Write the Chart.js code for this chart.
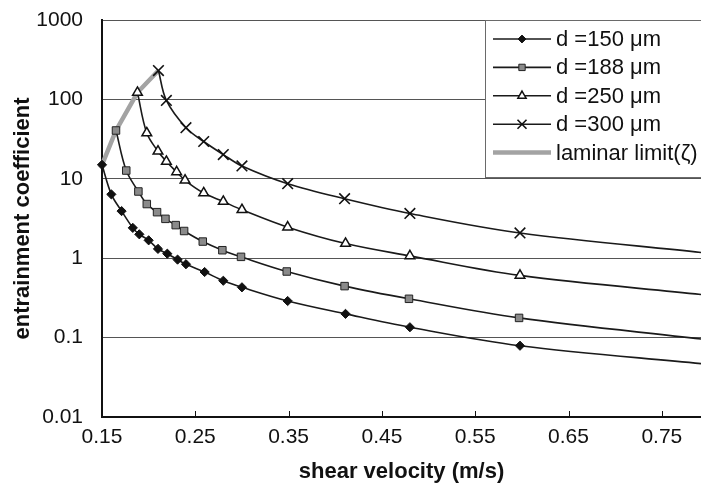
<!DOCTYPE html>
<html>
<head>
<meta charset="utf-8">
<script src="https://cdn.jsdelivr.net/npm/chart.js@4/dist/chart.umd.min.js"></script>
<style>
  html, body { margin: 0; padding: 0; background: #fff; }
  #wrap { width: 701px; height: 487px; position: relative; }
</style>
</head>
<body>
<div id="wrap"><canvas id="c"></canvas></div>
<script>
// Entrainment coefficient vs. shear velocity, one series per grain diameter
const velocity150 = [0.150, 0.160, 0.171, 0.183, 0.190, 0.200, 0.210, 0.220, 0.231, 0.240, 0.260, 0.280, 0.300, 0.349, 0.411, 0.480, 0.598, 0.792];
const coef150     = [15.0, 6.37, 3.92, 2.41, 2.00, 1.68, 1.31, 1.14, 0.96, 0.84, 0.67, 0.52, 0.43, 0.289, 0.199, 0.135, 0.079, 0.047];

const velocity188 = [0.165, 0.176, 0.189, 0.198, 0.209, 0.218, 0.229, 0.238, 0.258, 0.279, 0.299, 0.348, 0.410, 0.479, 0.597, 0.792];
const coef188     = [40.6, 12.7, 6.92, 4.81, 3.80, 3.13, 2.61, 2.20, 1.62, 1.26, 1.04, 0.68, 0.445, 0.308, 0.177, 0.096];

const velocity250 = [0.188, 0.198, 0.210, 0.219, 0.230, 0.239, 0.259, 0.280, 0.300, 0.349, 0.411, 0.480, 0.598, 0.792];
const coef250     = [122, 37.7, 22.2, 16.5, 12.2, 9.58, 6.62, 5.17, 4.07, 2.46, 1.53, 1.07, 0.607, 0.349];

const velocity300 = [0.2105, 0.219, 0.240, 0.259, 0.280, 0.300, 0.349, 0.410, 0.480, 0.598, 0.792];
const coef300     = [231, 97, 44, 29.5, 20.2, 14.5, 8.67, 5.61, 3.66, 2.08, 1.18];

// laminar limit joins the first point of every diameter
const laminarVelocity = [0.150, 0.165, 0.188, 0.2105];
const laminarCoef     = [15.0, 40.6, 122, 231];

const seriesLabels = ['d =150 μm', 'd =188 μm', 'd =250 μm', 'd =300 μm', 'laminar limit(ζ)'];

const xTickValues = [0.15, 0.25, 0.35, 0.45, 0.55, 0.65, 0.75];
const xTickLabels = ['0.15', '0.25', '0.35', '0.45', '0.55', '0.65', '0.75'];
const yTickValues = [0.01, 0.1, 1, 10, 100, 1000];
const yTickLabels = ['0.01', '0.1', '1', '10', '100', '1000'];

const X_MIN = 0.15, X_MAX = 0.792;

const toPoints = (xs, ys) => xs.map((x, i) => ({ x: x, y: ys[i] }));
// the final entry of each curve is where the line leaves the axis; it carries no marker
const lastHidden = (r) => (ctx) => ctx.dataIndex === ctx.dataset.data.length - 1 ? 0 : r;

const LINE = '#1a1a1a';
const FONT = '"Liberation Sans", Arial, sans-serif';
const markers = [
  { style: 'rectRot',  radius: 4.6, fill: '#111',    stroke: '#111', bw: 1 },
  { style: 'rect',     radius: 5.3, fill: '#8a8a8a', stroke: '#222', bw: 1 },
  { style: 'triangle', radius: 5.6, fill: '#ffffff', stroke: '#111', bw: 1.5 },
  { style: 'crossRot', radius: 7.5, fill: '#111',    stroke: '#111', bw: 1.6 }
];

function seriesDataset(i, xs, ys) {
  const m = markers[i];
  return {
    label: seriesLabels[i],
    data: toPoints(xs, ys),
    borderColor: LINE,
    borderWidth: 1.6,
    tension: 0.35,
    fill: false,
    clip: false,
    pointStyle: m.style,
    pointRadius: lastHidden(m.radius),
    pointBackgroundColor: m.fill,
    pointBorderColor: m.stroke,
    pointBorderWidth: m.bw,
    order: i
  };
}

const datasets = [
  seriesDataset(0, velocity150, coef150),
  seriesDataset(1, velocity188, coef188),
  seriesDataset(2, velocity250, coef250),
  seriesDataset(3, velocity300, coef300),
  {
    label: seriesLabels[4],
    data: toPoints(laminarVelocity, laminarCoef),
    borderColor: '#a3a3a3',
    borderWidth: 4.5,
    tension: 0,
    fill: false,
    clip: false,
    pointRadius: 0,
    order: 10
  }
];

function drawMarker(ctx, m, x, y) {
  const r = m.radius;
  ctx.save();
  ctx.fillStyle = m.fill;
  ctx.strokeStyle = m.stroke;
  ctx.lineWidth = m.bw;
  ctx.beginPath();
  if (m.style === 'rectRot') {
    ctx.moveTo(x, y - r); ctx.lineTo(x + r, y); ctx.lineTo(x, y + r); ctx.lineTo(x - r, y); ctx.closePath();
    ctx.fill(); ctx.stroke();
  } else if (m.style === 'rect') {
    const s = r * Math.SQRT1_2;
    ctx.rect(x - s, y - s, 2 * s, 2 * s); ctx.fill(); ctx.stroke();
  } else if (m.style === 'triangle') {
    const a = 2 * Math.PI / 3;
    ctx.moveTo(x, y - r);
    ctx.lineTo(x + Math.sin(a) * r, y - Math.cos(a) * r);
    ctx.lineTo(x + Math.sin(2 * a) * r, y - Math.cos(2 * a) * r);
    ctx.closePath(); ctx.fill(); ctx.stroke();
  } else {
    const o = r * Math.SQRT1_2;
    ctx.moveTo(x - o, y - o); ctx.lineTo(x + o, y + o);
    ctx.moveTo(x + o, y - o); ctx.lineTo(x - o, y + o);
    ctx.stroke();
  }
  ctx.restore();
}

// short inward tick marks on the velocity axis
const innerTicks = {
  id: 'innerTicks',
  afterDatasetsDraw(chart) {
    const { ctx, scales: { x }, chartArea } = chart;
    ctx.save();
    ctx.strokeStyle = '#111';
    ctx.lineWidth = 1;
    xTickValues.forEach(v => {
      const px = Math.round(x.getPixelForValue(v)) + 0.5;
      ctx.beginPath();
      ctx.moveTo(px, chartArea.bottom);
      ctx.lineTo(px, chartArea.bottom - 6);
      ctx.stroke();
    });
    ctx.restore();
  }
};

// boxed legend in the upper right corner of the plot
const boxLegend = {
  id: 'boxLegend',
  afterDraw(chart) {
    const { ctx } = chart;
    const left = 485.5, top = 20.5, right = 702, bottom = 177.5;
    ctx.save();
    ctx.fillStyle = '#fff';
    ctx.fillRect(left, top, right - left, bottom - top);
    ctx.strokeStyle = '#6a6a6a';
    ctx.lineWidth = 1;
    ctx.strokeRect(left, top, right - left, bottom - top);
    ctx.font = '22px ' + FONT;
    ctx.textBaseline = 'middle';
    ctx.textAlign = 'left';
    const x0 = 493, x1 = 551, tx = 556;
    for (let i = 0; i < seriesLabels.length; i++) {
      const y = 39 + i * 28.4;
      ctx.beginPath();
      if (i < 4) {
        ctx.strokeStyle = LINE; ctx.lineWidth = 1.6;
      } else {
        ctx.strokeStyle = '#a3a3a3'; ctx.lineWidth = 4.5;
      }
      ctx.moveTo(x0, y); ctx.lineTo(x1, y); ctx.stroke();
      if (i < 4) {
        const m = Object.assign({}, markers[i], { radius: markers[i].radius * 0.85 });
        drawMarker(ctx, m, (x0 + x1) / 2, y);
      }
      ctx.fillStyle = '#111';
      ctx.fillText(seriesLabels[i], tx, y + 1);
    }
    ctx.restore();
  }
};

new Chart(document.getElementById('c'), {
  type: 'line',
  data: { datasets: datasets },
  plugins: [innerTicks, boxLegend],
  options: {
    responsive: true,
    maintainAspectRatio: false,
    animation: false,
    layout: { autoPadding: false, padding: { top: 20, right: 0, left: 0, bottom: 0 } },
    plugins: { legend: { display: false }, tooltip: { enabled: false } },
    scales: {
      x: {
        type: 'linear',
        min: X_MIN,
        max: X_MAX,
        afterBuildTicks: s => { s.ticks = xTickValues.map(v => ({ value: v })); },
        afterFit: s => { s.height = 70; s.paddingLeft = 0; s.paddingRight = 0; },
        ticks: {
          callback: (v, i) => xTickLabels[i],
          color: '#111',
          font: { family: FONT, size: 21 },
          padding: 8,
          maxRotation: 0,
          autoSkip: false
        },
        grid: { display: false, drawTicks: false },
        border: { display: true, color: '#111', width: 2 },
        title: {
          display: true,
          text: 'shear velocity (m/s)',
          color: '#111',
          font: { family: FONT, size: 22, weight: 'bold' },
          padding: { top: 0, bottom: 2 }
        }
      },
      y: {
        type: 'logarithmic',
        min: 0.01,
        max: 1000,
        afterBuildTicks: s => { s.ticks = yTickValues.map(v => ({ value: v })); },
        afterFit: s => { s.width = 102; s.paddingTop = 0; s.paddingBottom = 0; },
        ticks: {
          callback: (v, i) => yTickLabels[i],
          color: '#111',
          font: { family: FONT, size: 21 },
          padding: 19,
          autoSkip: false
        },
        grid: { color: '#555', lineWidth: 1, drawTicks: false },
        border: { display: true, color: '#111', width: 2 },
        title: {
          display: true,
          text: 'entrainment coefficient',
          color: '#111',
          font: { family: FONT, size: 22, weight: 'bold' },
          padding: { top: 10, bottom: 0 }
        }
      }
    }
  }
});
</script>
</body>
</html>
